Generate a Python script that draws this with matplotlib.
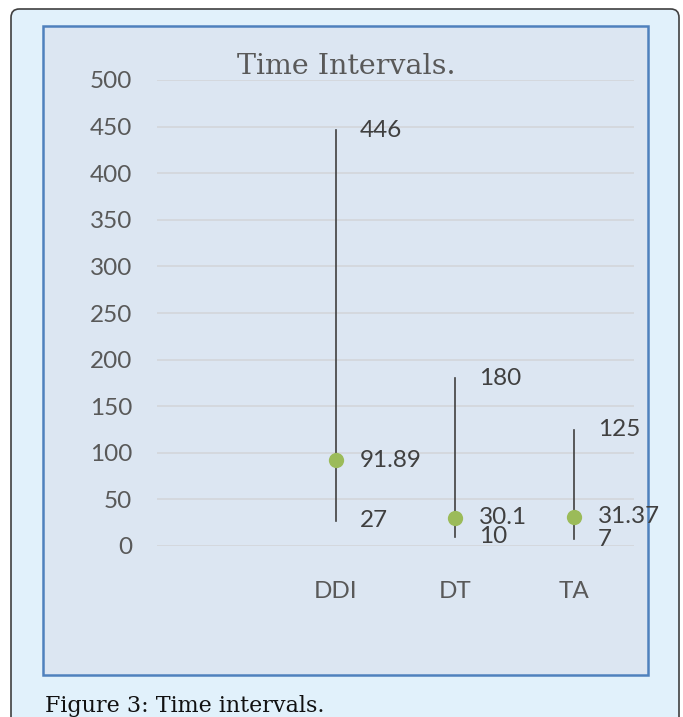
import matplotlib
matplotlib.use("Agg")
import matplotlib.pyplot as plt
from matplotlib.patches import FancyBboxPatch, Rectangle

categories = ["", "DDI", "DT", "TA"]
high = [None, 446, 180, 125]
low = [None, 27, 10, 7]
mean = [None, 91.89, 30.1, 31.37]
high_labels = ["", "446", "180", "125"]
low_labels = ["", "27", "10", "7"]
mean_labels = ["", "91.89", "30.1", "31.37"]
yticks = [0, 50, 100, 150, 200, 250, 300, 350, 400, 450, 500]

W, H = 683, 717
fig = plt.figure(figsize=(W / 100, H / 100), dpi=100)
fig.patch.set_facecolor("white")

def fx(px):
    return px / W

def fy(py):
    return 1 - py / H

# outer rounded box
outer = FancyBboxPatch((fx(11), fy(740)), fx(679) - fx(11), fy(9) - fy(740),
                       boxstyle="round,pad=0,rounding_size=0.012",
                       transform=fig.transFigure, facecolor="#e1f1fb",
                       edgecolor="#404040", linewidth=1.2, zorder=0)
fig.patches.append(outer)

# inner chart box
inner = Rectangle((fx(43), fy(675)), fx(648) - fx(43), fy(26) - fy(675),
                  transform=fig.transFigure, facecolor="#dce6f2",
                  edgecolor="#4f81bd", linewidth=1.8, zorder=1)
fig.patches.append(inner)

ax = fig.add_axes([fx(157), fy(546), fx(634) - fx(157), fy(80) - fy(546)])
ax.set_zorder(5)
ax.set_facecolor("none")
ax.set_xlim(-0.5, len(categories) - 0.5)
ax.set_ylim(0, 500)
ax.set_yticks(yticks)
ax.set_yticklabels([str(v) for v in yticks])
ax.set_xticks(range(len(categories)))
ax.set_xticklabels(categories)
for s in ax.spines.values():
    s.set_visible(False)
ax.yaxis.grid(True, color="#d4d8de", linewidth=1.4)
ax.set_axisbelow(True)
ax.tick_params(axis="both", length=0, labelsize=17.5, labelcolor="#595959")
ax.tick_params(axis="y", pad=18)
ax.tick_params(axis="x", pad=25)
for lab in ax.get_xticklabels() + ax.get_yticklabels():
    lab.set_family("Lato")

for i, c in enumerate(categories):
    if high[i] is None:
        continue
    ax.plot([i, i], [low[i], high[i]], color="#404040", linewidth=1.2, zorder=2)
    ax.plot([i], [mean[i]], marker="o", markersize=11, color="#9bbb59",
            markeredgewidth=0, zorder=3)
    for val, txt in ((high[i], high_labels[i]), (low[i], low_labels[i]),
                     (mean[i], mean_labels[i])):
        ax.annotate(txt, (i, val), xytext=(17, 0), textcoords="offset points",
                    ha="left", va="center", fontsize=17.5, color="#404040",
                    family="Lato", zorder=4)

fig.text(fx(346), fy(67), "Time Intervals.", ha="center", va="center",
         fontsize=20.5, color="#595959", family="DejaVu Serif", zorder=6)
fig.text(fx(45), fy(706), "Figure 3: Time intervals.", ha="left", va="center",
         fontsize=16, color="#111111", family="DejaVu Serif", zorder=6)

fig.savefig("out.png", dpi=100)
